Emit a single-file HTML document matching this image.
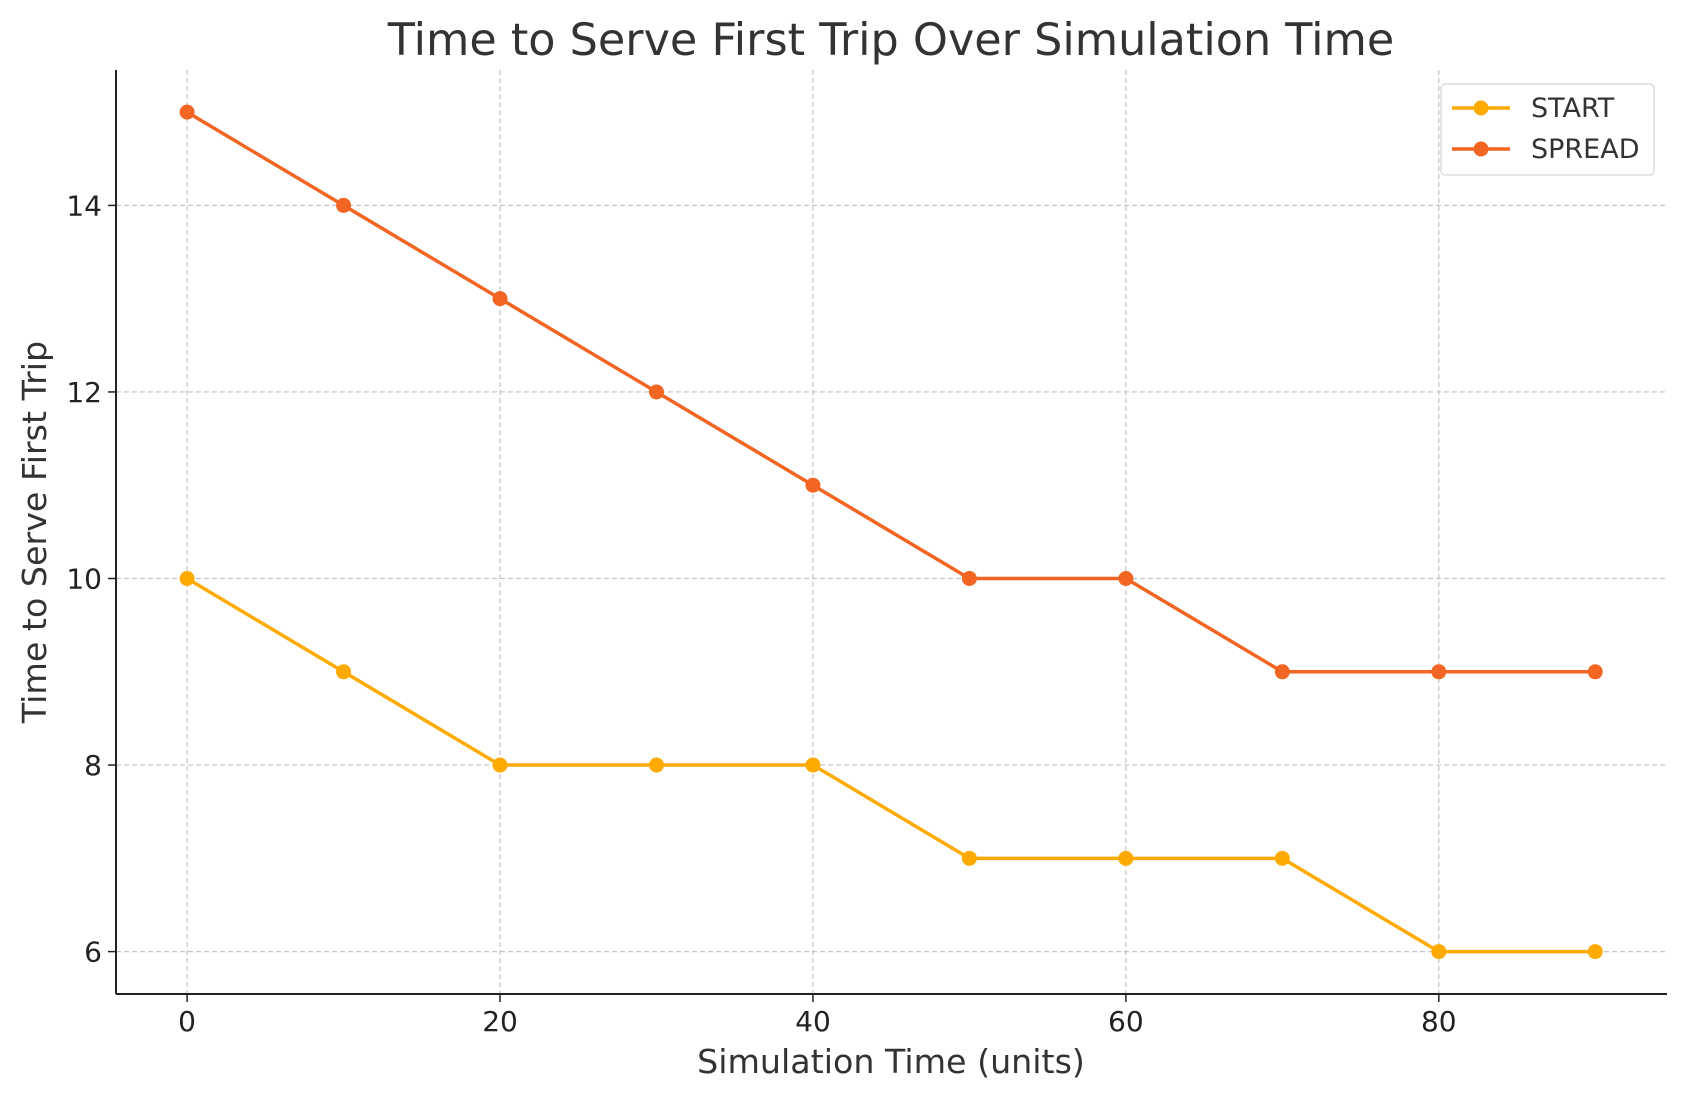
<!DOCTYPE html>
<html><head><meta charset="utf-8"><style>
html,body{margin:0;padding:0;background:#fff;}
svg{display:block;font-family:"DejaVu Sans","Liberation Sans",sans-serif;}
</style></head><body>
<svg id="chart" width="1686" height="1101" viewBox="0 0 1686 1101">
<rect width="1686" height="1101" fill="#fff"/>
<g id="grid"></g>
<g id="axes"></g>
<g id="series"></g>
<text x="891" y="55" text-anchor="middle" font-size="44.5" fill="#333">Time to Serve First Trip Over Simulation Time</text>
<text x="891" y="1073" text-anchor="middle" font-size="33.3" fill="#333">Simulation Time (units)</text>
<text transform="translate(46,532) rotate(-90)" text-anchor="middle" font-size="33.3" fill="#333">Time to Serve First Trip</text>
<g>
<rect x="1441" y="84" width="213" height="91" rx="4" fill="#fff" stroke="#ccc"/>
<g>
<line x1="1452" y1="108" x2="1510" y2="108" stroke="#FFAA00" stroke-width="3.5"/>
<circle cx="1481" cy="108" r="7.5" fill="#FFAA00"/>
<text x="1531" y="117" font-size="27" fill="#333">START</text></g>
<g>
<line x1="1452" y1="149" x2="1510" y2="149" stroke="#F26522" stroke-width="3.5"/>
<circle cx="1481" cy="149" r="7.5" fill="#F26522"/>
<text x="1531" y="158" font-size="27" fill="#333">SPREAD</text></g>
</g>
</svg>
<script>
const xValues=[0,10,20,30,40,50,60,70,80,90];
const startValues=[10,9,8,8,8,7,7,7,6,6];
const spreadValues=[15,14,13,12,11,10,10,9,9,9];
const xTicks=[0,20,40,60,80];
const yTicks=[6,8,10,12,14];
const NS="http://www.w3.org/2000/svg";
const L=116,R=1667,T=70,B=994;
function xs(v){return 187.1+v*(1438.8-187.1)/80;}
function ys(v){return 951.6-(v-6)*(951.6-205.4)/8;}
function mk(tag,attrs,parent){const e=document.createElementNS(NS,tag);for(const k in attrs)e.setAttribute(k,attrs[k]);parent.appendChild(e);return e;}
const grid=document.getElementById('grid'),axes=document.getElementById('axes'),ser=document.getElementById('series');
xTicks.forEach(t=>{
 const g=mk('line',{x1:xs(t),x2:xs(t),y1:T,y2:B,stroke:'#c4c4c4','stroke-dasharray':'5,3','stroke-width':1.2},grid);
 
 
 mk('line',{x1:xs(t),x2:xs(t),y1:B,y2:B+8,stroke:'#222','stroke-width':1.5},axes);
 const tx=mk('text',{x:xs(t),y:B+37,'text-anchor':'middle','font-size':28,fill:'#222'},axes);
 tx.textContent=t;
 
 
});
yTicks.forEach(t=>{
 const g=mk('line',{x1:L,x2:R,y1:ys(t),y2:ys(t),stroke:'#c4c4c4','stroke-dasharray':'5,3','stroke-width':1.2},grid);
 
 
 mk('line',{x1:L-8,x2:L,y1:ys(t),y2:ys(t),stroke:'#222','stroke-width':1.5},axes);
 const tx=mk('text',{x:L-14,y:ys(t)+10,'text-anchor':'end','font-size':28,fill:'#222'},axes);
 tx.textContent=t;
 
 
});
mk('line',{x1:L,x2:L,y1:T,y2:B,stroke:'#222','stroke-width':2},axes);
mk('line',{x1:L,x2:R,y1:B,y2:B,stroke:'#222','stroke-width':2},axes);
function drawSeries(vals,color,name){
 const p=mk('polyline',{points:vals.map((v,i)=>xs(xValues[i])+','+ys(v)).join(' '),fill:'none',stroke:color,'stroke-width':3.5},ser);
 
 
 vals.forEach((v,i)=>{
  const c=mk('circle',{cx:xs(xValues[i]),cy:ys(v),r:7.5,fill:color},ser);
  
  
 });
}
drawSeries(startValues,'#FFAA00','start');
drawSeries(spreadValues,'#F26522','spread');
</script>
</body></html>
